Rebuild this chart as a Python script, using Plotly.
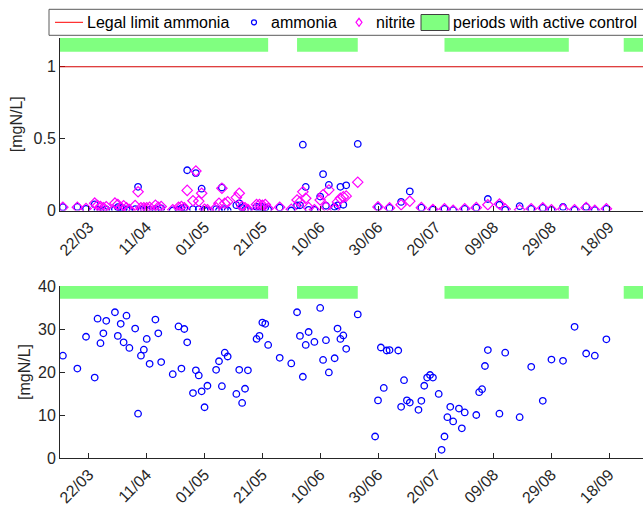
import pandas as pd
import plotly.graph_objects as go

YEAR = 2015

# Upper panel: ammonia and nitrite samples [mgN/L]
upper_dates = [
    "13/03", "18/03", "21/03", "24/03", "25/03", "26/03", "27/03", "28/03", "31/03", "01/04",
    "02/04", "03/04", "04/04", "05/04", "07/04", "08/04", "09/04", "10/04", "11/04", "12/04",
    "14/04", "15/04", "16/04", "20/04", "22/04", "23/04", "24/04", "25/04", "27/04", "28/04",
    "29/04", "30/04", "01/05", "02/05", "05/05", "06/05", "07/05", "08/05", "09/05", "12/05",
    "13/05", "14/05", "15/05", "16/05", "19/05", "20/05", "21/05", "22/05", "23/05", "27/05",
    "31/05", "02/06", "03/06", "04/06", "05/06", "06/06", "08/06", "10/06", "11/06", "12/06",
    "13/06", "15/06", "16/06", "17/06", "18/06", "19/06", "23/06", "30/06", "04/07", "08/07",
    "11/07", "15/07", "19/07", "23/07", "26/07", "30/07", "03/08", "07/08", "11/08", "13/08",
    "18/08", "22/08", "26/08", "29/08", "02/09", "06/09", "10/09", "13/09", "17/09",
]
upper_ammonia = [
    0.023, 0.025, 0.012, 0.042, 0.005, 0.002, 0.000, 0.007, 0.009, 0.023,
    0.019, 0.009, 0.007, 0.005, 0.009, 0.165, 0.005, 0.009, 0.005, 0.005,
    0.009, 0.005, 0.014, 0.000, 0.005, 0.014, 0.019, 0.280, 0.009, 0.260,
    0.009, 0.152, 0.005, 0.000, 0.009, 0.000, 0.160, 0.009, 0.000, 0.037,
    0.050, 0.019, 0.005, 0.005, 0.025, 0.025, 0.025, 0.019, 0.007, 0.021,
    0.000, 0.036, 0.036, 0.458, 0.164, 0.005, 0.005, 0.097, 0.253, 0.033,
    0.178, 0.026, 0.035, 0.165, 0.040, 0.175, 0.463, 0.025, 0.018, 0.060,
    0.133, 0.020, 0.007, 0.012, 0.002, 0.012, 0.020, 0.080, 0.040, 0.005,
    0.030, 0.012, 0.018, 0.005, 0.025, 0.005, 0.025, 0.002, 0.012,
]
upper_nitrite = [
    0.023, 0.023, 0.014, 0.051, 0.035, 0.028, 0.019, 0.026, 0.051, 0.042,
    0.019, 0.033, 0.019, 0.007, 0.035, 0.130, 0.019, 0.019, 0.019, 0.023,
    0.037, 0.023, 0.028, 0.005, 0.023, 0.028, 0.019, 0.140, 0.068, 0.275,
    0.065, 0.120, 0.009, 0.005, 0.019, 0.050, 0.155, 0.050, 0.060, 0.090,
    0.120, 0.028, 0.019, 0.007, 0.042, 0.042, 0.037, 0.042, 0.014, 0.023,
    0.009, 0.073, 0.060, 0.130, 0.085, 0.020, 0.005, 0.073, 0.110, 0.025,
    0.143, 0.010, 0.060, 0.085, 0.095, 0.100, 0.197, 0.025, 0.018, 0.040,
    0.065, 0.020, 0.007, 0.012, 0.002, 0.012, 0.020, 0.040, 0.045, 0.010,
    0.005, 0.012, 0.018, 0.005, 0.010, 0.005, 0.020, 0.002, 0.012,
]

# Lower panel: ammonia samples [mgN/L]
lower_dates = [
    "13/03", "18/03", "21/03", "24/03", "25/03", "26/03", "27/03", "28/03", "31/03", "01/04",
    "02/04", "03/04", "04/04", "05/04", "07/04", "08/04", "09/04", "10/04", "11/04", "12/04",
    "14/04", "15/04", "16/04", "20/04", "22/04", "23/04", "24/04", "25/04", "27/04", "28/04",
    "29/04", "30/04", "01/05", "02/05", "05/05", "06/05", "07/05", "08/05", "09/05", "12/05",
    "13/05", "14/05", "15/05", "16/05", "19/05", "20/05", "21/05", "22/05", "23/05", "27/05",
    "31/05", "02/06", "03/06", "04/06", "05/06", "06/06", "08/06", "10/06", "11/06", "12/06",
    "13/06", "15/06", "16/06", "17/06", "18/06", "19/06", "23/06", "29/06", "30/06", "01/07",
    "02/07", "03/07", "04/07", "07/07", "08/07", "09/07", "10/07", "11/07", "14/07", "15/07",
    "16/07", "17/07", "18/07", "19/07", "21/07", "22/07", "23/07", "24/07", "25/07", "26/07",
    "28/07", "29/07", "30/07", "03/08", "04/08", "05/08", "06/08", "07/08", "11/08", "13/08",
    "18/08", "22/08", "26/08", "29/08", "02/09", "06/09", "10/09", "13/09", "17/09",
]
lower_ammonia = [
    23.8, 20.8, 28.2, 18.7, 32.4, 26.7, 29.0, 31.9, 33.9, 28.4,
    31.2, 26.9, 33.1, 25.6, 30.1, 10.3, 23.8, 25.2, 27.7, 21.9,
    32.2, 29.0, 22.3, 19.5, 30.6, 20.8, 30.0, 26.9, 15.1, 20.4,
    19.2, 15.5, 11.8, 16.8, 20.5, 22.5, 16.7, 24.5, 23.6, 14.9,
    20.5, 12.8, 16.1, 20.4, 27.7, 28.4, 31.5, 31.2, 26.3, 23.3,
    22.0, 33.9, 28.4, 18.9, 26.3, 29.3, 27.0, 34.9, 22.8, 27.4,
    19.9, 23.2, 30.1, 27.7, 28.5, 25.4, 33.4, 5.0, 13.4, 25.7,
    16.3, 25.0, 25.1, 25.0, 11.9, 18.1, 13.4, 12.9, 11.2, 13.3,
    16.8, 18.7, 19.3, 18.7, 14.9, 1.9, 5.0, 9.5, 11.9, 8.5,
    11.5, 6.9, 10.6, 10.0, 15.3, 16.0, 21.4, 25.1, 10.3, 24.5,
    9.5, 21.2, 13.3, 22.9, 22.6, 30.5, 24.3, 23.8, 27.6,
]

legal_limit_ammonia = 1.0

# Periods with active control (start, end)
control_start = ["01/03", "02/06", "23/07", "23/09"]
control_end = ["23/05", "23/06", "04/09", "20/10"]

tick_labels = ["22/03", "11/04", "01/05", "21/05", "10/06",
               "30/06", "20/07", "09/08", "29/08", "18/09"]

x_range = ["2015-03-12 00:00", "2015-09-29 16:00"]


def to_dates(labels):
    return pd.to_datetime([f"{d}/{YEAR}" for d in labels], format="%d/%m/%Y")


AXIS_COLOR = "#262626"
GREEN = "#80ff80"
FONT = "Liberation Sans, Arial, sans-serif"
FS = 16

W, H = 643, 506
ML, MR, MT, MB = 60, 0, 38, 48
PW, PH = W - ML - MR, H - MT - MB


def px_x(px):
    return (px - ML) / PW


def px_y(py):
    return (H - MB - py) / PH


fig = go.Figure()

# Active-control bands (drawn first so the samples sit on top)
bands = [("x", "y", 1.105, 1.2), ("x2", "y2", 37.05, 40.0)]
for xa, ya, lo, hi in bands:
    for s, e in zip(to_dates(control_start), to_dates(control_end)):
        fig.add_trace(go.Scatter(
            x=[s, e, e, s, s], y=[lo, lo, hi, hi, lo],
            xaxis=xa, yaxis=ya, mode="lines", fill="toself",
            fillcolor=GREEN, line=dict(width=0, color=GREEN),
            hoverinfo="skip", showlegend=False))

# Legal limit
fig.add_shape(type="line", xref="x domain", yref="y", x0=0, x1=1,
              y0=legal_limit_ammonia, y1=legal_limit_ammonia,
              line=dict(color="#d40000", width=1))

circle_marker = dict(symbol="circle-open", size=6.5, color="#0000ff",
                     line=dict(width=1.3, color="#0000ff"))
diamond_marker = dict(symbol="diamond-open", size=8, color="#ff00ff",
                      line=dict(width=1.2, color="#ff00ff"))

fig.add_trace(go.Scatter(x=to_dates(upper_dates), y=upper_ammonia, mode="markers",
                         marker=circle_marker, xaxis="x", yaxis="y",
                         name="ammonia", showlegend=False))
fig.add_trace(go.Scatter(x=to_dates(upper_dates), y=upper_nitrite, mode="markers",
                         marker=diamond_marker, xaxis="x", yaxis="y",
                         name="nitrite", showlegend=False))
fig.add_trace(go.Scatter(x=to_dates(lower_dates), y=lower_ammonia, mode="markers",
                         marker=circle_marker, xaxis="x2", yaxis="y2",
                         name="ammonia", showlegend=False))

xaxis_common = dict(
    range=x_range, tickvals=to_dates(tick_labels), ticktext=tick_labels,
    tickangle=-45, ticks="inside", ticklen=5, tickcolor=AXIS_COLOR,
    showline=True, linecolor=AXIS_COLOR, linewidth=1, showgrid=False,
    zeroline=False, tickfont=dict(family=FONT, size=FS, color=AXIS_COLOR),
)
yaxis_common = dict(
    ticks="inside", ticklen=5, tickcolor=AXIS_COLOR, showline=True,
    linecolor=AXIS_COLOR, linewidth=1, showgrid=False, zeroline=False,
    tickfont=dict(family=FONT, size=FS, color=AXIS_COLOR),
)

top_dom = [px_y(210.5), 1.0]
bot_dom = [0.0, px_y(286)]

fig.update_layout(
    width=W, height=H,
    margin=dict(l=ML, r=MR, t=MT, b=MB, autoexpand=False),
    paper_bgcolor="white", plot_bgcolor="white",
    font=dict(family=FONT, size=FS, color=AXIS_COLOR),
    showlegend=False,
    xaxis=dict(**xaxis_common, domain=[0, 1], anchor="y"),
    yaxis=dict(**yaxis_common, domain=top_dom, anchor="x", range=[0, 1.2],
               tickvals=[0, 0.5, 1], ticktext=["0", "0.5", "1"],
               title=dict(text="[mgN/L]", standoff=6,
                          font=dict(family=FONT, size=FS, color=AXIS_COLOR))),
    xaxis2=dict(**xaxis_common, domain=[0, 1], anchor="y2"),
    yaxis2=dict(**yaxis_common, domain=bot_dom, anchor="x2", range=[0, 40],
                tickvals=[0, 10, 20, 30, 40],
                title=dict(text="[mgN/L]", standoff=3,
                           font=dict(family=FONT, size=FS, color=AXIS_COLOR))),
)

# Legend box across the top
ly = 22.3
fig.add_shape(type="rect", xref="paper", yref="paper",
              x0=px_x(49), x1=px_x(760), y0=px_y(35.3), y1=px_y(9.3),
              line=dict(color="#5a5a5a", width=1), fillcolor="white", layer="above")
fig.add_shape(type="line", xref="paper", yref="paper",
              x0=px_x(55), x1=px_x(83), y0=px_y(ly), y1=px_y(ly),
              line=dict(color="#ff0000", width=1))
fig.add_shape(type="circle", xref="paper", yref="paper",
              xsizemode="pixel", ysizemode="pixel",
              xanchor=px_x(254), yanchor=px_y(ly), x0=-2.5, x1=2.5, y0=-2.5, y1=2.5,
              line=dict(color="#0000ff", width=1.2))
fig.add_shape(type="path", xref="paper", yref="paper",
              xsizemode="pixel", ysizemode="pixel",
              xanchor=px_x(359), yanchor=px_y(ly),
              path="M 0 -4 L 3 0 L 0 4 L -3 0 Z",
              line=dict(color="#ff00ff", width=1.2))
fig.add_shape(type="rect", xref="paper", yref="paper",
              x0=px_x(421), x1=px_x(449), y0=px_y(30.5), y1=px_y(14.5),
              line=dict(color="#404040", width=1), fillcolor=GREEN)

legend_items = [(86, "Legal limit ammonia"), (270, "ammonia"),
                (375, "nitrite"), (452, "periods with active control")]
for xpx, label in legend_items:
    fig.add_annotation(x=px_x(xpx), y=px_y(ly), xref="paper", yref="paper",
                       text=label, showarrow=False, xanchor="left", yanchor="middle",
                       font=dict(family=FONT, size=FS, color="black"), borderpad=0)

fig.write_html("out.html")
